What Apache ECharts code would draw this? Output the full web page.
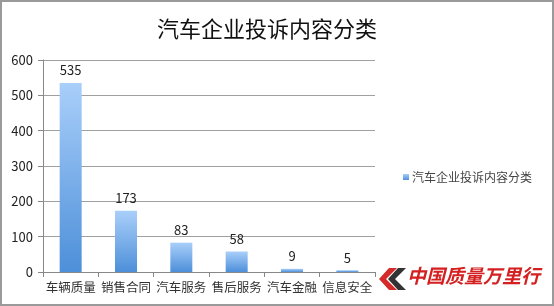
<!DOCTYPE html>
<html>
<head>
<meta charset="utf-8">
<script src="https://cdn.jsdelivr.net/npm/echarts@6/dist/echarts.min.js"></script>
<style>
  html, body { margin: 0; padding: 0; background: #fff; }
  #chart { width: 554px; height: 306px; box-sizing: border-box; border: 2px solid #9a9a9a; }
</style>
</head>
<body>
<div id="chart"></div>
<script>
// Complaint categories and counts
const categories = ['车辆质量', '销售合同', '汽车服务', '售后服务', '汽车金融', '信息安全'];
const counts = [535, 173, 83, 58, 9, 5];
const yTicks = [0, 100, 200, 300, 400, 500, 600];
const seriesName = '汽车企业投诉内容分类';
const chartTitle = '汽车企业投诉内容分类';
const brandText = '中国质量万里行';

const chart = echarts.init(document.getElementById('chart'));
const font = '"Noto Sans CJK SC", "DejaVu Sans", sans-serif';

chart.setOption({
  animation: false,
  title: {
    text: chartTitle,
    left: 260, top: 11, textAlign: 'center',
    textStyle: { fontFamily: font, fontSize: 22, fontWeight: 'normal', color: '#111' }
  },
  legend: {
    data: [seriesName],
    left: 396, top: 164,
    itemWidth: 6, itemHeight: 6, itemGap: 4,
    icon: 'rect',
    textStyle: { fontFamily: font, fontSize: 12, color: '#444', padding: [0, 0, 0, -2] }
  },
  grid: { left: 41, top: 58, width: 332, height: 212, containLabel: false },
  xAxis: {
    type: 'category',
    data: categories,
    axisLine: { lineStyle: { color: '#888', width: 1 } },
    axisTick: { show: true, alignWithLabel: false, length: 5, lineStyle: { color: '#888' } },
    axisLabel: { fontFamily: font, fontSize: 12.5, color: '#333', margin: 9, interval: 0 }
  },
  yAxis: {
    type: 'value',
    min: yTicks[0], max: yTicks[yTicks.length - 1], interval: 100,
    axisLine: { show: true, lineStyle: { color: '#888' } },
    axisTick: { show: true, length: 5, lineStyle: { color: '#888' } },
    axisLabel: { fontFamily: font, fontSize: 13, color: '#222', margin: 10 },
    splitLine: { lineStyle: { color: '#a0a0a0', width: 1 } }
  },
  series: [{
    name: seriesName,
    type: 'bar',
    data: counts,
    barWidth: 22,
    itemStyle: {
      color: new echarts.graphic.LinearGradient(0, 0, 0, 1, [
        { offset: 0, color: '#a9cffa' },
        { offset: 1, color: '#4d8fd9' }
      ])
    },
    label: {
      show: true, position: 'top', distance: 6,
      fontFamily: font, fontSize: 13, color: '#222'
    }
  }],
  graphic: [
    {
      type: 'polygon', left: 377, top: 266,
      shape: { points: [[10, 0], [18, 0], [7, 11], [18, 22], [10, 22], [0, 11]] },
      style: { fill: '#d42a2a' }
    },
    {
      type: 'polygon', left: 386, top: 266,
      shape: { points: [[10, 0], [18, 0], [7, 11], [18, 22], [10, 22], [0, 11]] },
      style: { fill: '#333' }
    },
    {
      type: 'text', left: 405, top: 264,
      style: {
        text: brandText, fill: '#d42020',
        font: 'italic bold 19px "Noto Sans CJK SC", sans-serif'
      }
    }
  ]
});
</script>
</body>
</html>
